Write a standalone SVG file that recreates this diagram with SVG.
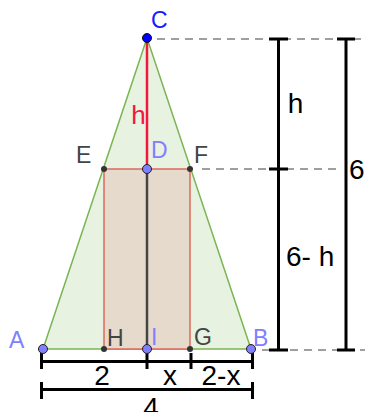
<svg xmlns="http://www.w3.org/2000/svg" width="365" height="412" viewBox="0 0 365 412">
<style>
.lbl{font-family:"Liberation Sans",Arial,sans-serif;font-size:23px}
.dim{font-family:"Liberation Sans",Arial,sans-serif;font-size:28px;fill:#000}
.bar{stroke:#000;stroke-width:3;fill:none}
.dash{stroke:#808080;stroke-width:1.6;stroke-dasharray:8 6;fill:none}
.blue{fill:#7f7fff;stroke:#222;stroke-width:1}
.dark{fill:#333}
</style>
<rect width="365" height="412" fill="#fff"/>
<g id="triangle">
<polygon points="147,38 43,349 251,349" fill="#e8f2e1" stroke="#79b552" stroke-width="1.5"/>
</g>
<g id="rectangle">
<rect x="104" y="169" width="86" height="180" fill="#e6dacc" stroke="#dc6a5e" stroke-width="1.5"/>
</g>
<g id="connectors">
<line x1="147" y1="38" x2="147" y2="169" stroke="#f5163e" stroke-width="2.5"/>
<line x1="147" y1="169" x2="147" y2="349" stroke="#444" stroke-width="2.5"/>
<line class="dash" x1="157" y1="39" x2="365" y2="39"/>
<line class="dash" x1="202" y1="169" x2="336" y2="169"/>
<line class="dash" x1="262" y1="350" x2="365" y2="350"/>
<path class="bar" d="M278.5,39V350 M269,39H288 M269,169H288 M269,350H288"/>
<path class="bar" d="M346,39V350 M337,39H355 M337,350H355"/>
<path class="bar" d="M41.5,361.5H253 M41.5,353V369 M147,353V369 M191,353V369 M252.5,353V369"/>
<path class="bar" d="M41.5,389.5H253 M41.5,382V399 M252.5,382V399"/>
</g>
<g id="dim-labels">
<text class="dim" x="295.5" y="113" text-anchor="middle">h</text>
<text class="dim" x="286" y="266">6- h</text>
<text class="dim" x="349" y="179">6</text>
<text class="dim" x="102" y="385" text-anchor="middle">2</text>
<text class="dim" x="170" y="385" text-anchor="middle">x</text>
<text class="dim" x="221" y="385" text-anchor="middle">2-x</text>
<text class="dim" x="151" y="417" text-anchor="middle">4</text>
<text class="dim" x="138.5" y="124" text-anchor="middle" fill="#f5163e" style="fill:#f5163e;font-size:26px">h</text>
</g>
<g id="C"><circle cx="147" cy="38" r="4.5" fill="#0000ff" stroke="#111" stroke-width="1"/><text class="lbl" x="151" y="28" fill="#1a1aff">C</text></g>
<g id="D"><circle class="blue" cx="147" cy="169" r="4.5"/><text class="lbl" x="151" y="158" fill="#8080ff">D</text></g>
<g id="E"><circle class="dark" cx="104" cy="169" r="3"/><text class="lbl" x="76" y="163" fill="#444">E</text></g>
<g id="F"><circle class="dark" cx="190" cy="169" r="3"/><text class="lbl" x="194" y="163" fill="#444">F</text></g>
<g id="A"><circle class="blue" cx="43" cy="349" r="4.5"/><text class="lbl" x="9" y="348" fill="#8080ff">A</text></g>
<g id="B"><circle class="blue" cx="251" cy="349" r="4.5"/><text class="lbl" x="253" y="346" fill="#8080ff">B</text></g>
<g id="H"><circle class="dark" cx="104" cy="349" r="3"/><text class="lbl" x="107" y="346" fill="#444">H</text></g>
<g id="I"><circle class="blue" cx="147" cy="349" r="4.5"/><text class="lbl" x="151" y="345" fill="#8080ff">I</text></g>
<g id="G"><circle class="dark" cx="190" cy="349" r="3"/><text class="lbl" x="194" y="345" fill="#444">G</text></g>
</svg>
